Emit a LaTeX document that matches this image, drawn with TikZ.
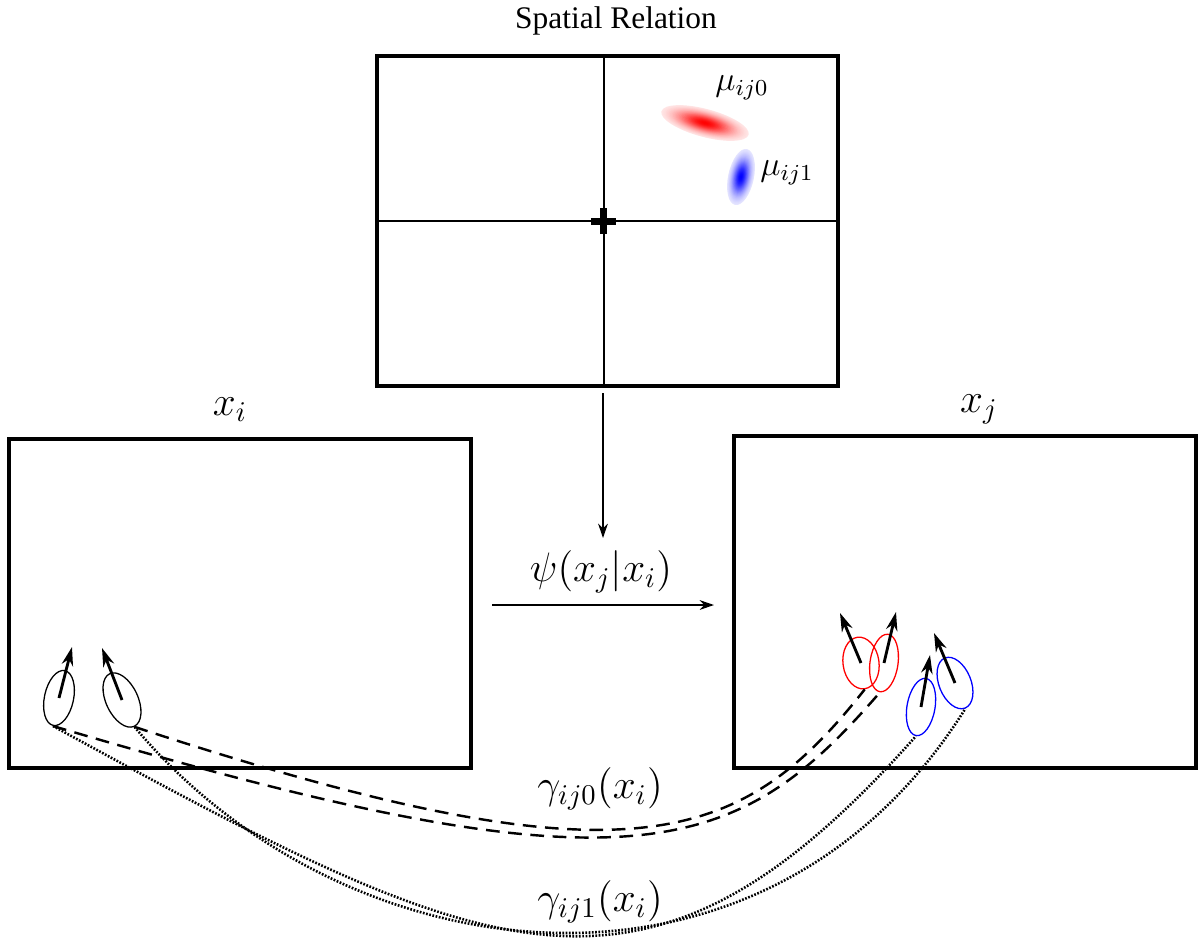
\documentclass[tikz,border=0pt]{standalone}
\usepackage{fontspec}
\setmainfont{Liberation Serif}
\usetikzlibrary{arrows.meta,shapes.geometric}
\begin{document}
\begin{tikzpicture}[x=0.35pt,y=-0.35pt,
  box/.style={draw, line width=1.3pt, inner sep=0pt},
  ell/.style={draw, ellipse, inner sep=0pt, line width=0.45pt},
  vec/.style={line width=1pt, -{Stealth[length=6.5pt,width=4pt]}},
  flow/.style={line width=0.7pt, -{Stealth[length=5pt,width=3.4pt]}},
  dsh/.style={line width=0.85pt, dash pattern=on 4.8pt off 3pt},
  dts/.style={line width=0.9pt, dash pattern=on 0.6pt off 0.55pt},
  lab/.style={inner sep=0pt, font=\Large}]
\useasboundingbox (0,0) rectangle (1198,939);

% boxes
\node[box, minimum width=161.35pt, minimum height=115.5pt] (top) at (607.5,221) {};
\node[box, minimum width=161.7pt, minimum height=115.15pt] (L) at (240,603.5) {};
\node[box, minimum width=161.7pt, minimum height=116.2pt] (R) at (965,602) {};

\node[inner sep=0pt, font=\rmfamily\fontsize{11pt}{13pt}\selectfont] (title) at (616,21) {Spatial Relation};
\node[lab] (xi) at (230,410) {$x_i$};
\node[lab] (xj) at (979,409) {$x_j$};

% cross
\coordinate (c) at (603.5,221);
\draw[line width=0.7pt] (c |- top.north) -- (c |- top.south);
\draw[line width=0.7pt] (c -| top.west) -- (c -| top.east);
\draw[line width=2.45pt] ([xshift=-4.4pt]c) -- ([xshift=4.4pt]c);
\draw[line width=2.45pt] ([yshift=-4.6pt]c) -- ([yshift=4.6pt]c);

% gaussians
\begin{scope}[shift={(705,123)}, rotate=-15]
\foreach \k in {0,...,29}{
  \pgfmathsetmacro\s{1-\k/30}
  \pgfmathsetmacro\p{100*exp(-2.3*\s*\s)}
  \fill[red!\p] (0,0) ellipse [x radius=\s*15.8pt, y radius=\s*4.9pt];
}
\end{scope}
\begin{scope}[shift={(741,177)}, rotate=-12]
\foreach \k in {0,...,29}{
  \pgfmathsetmacro\s{1-\k/30}
  \pgfmathsetmacro\p{100*exp(-2.3*\s*\s)}
  \fill[blue!\p] (0,0) ellipse [x radius=\s*4.5pt, y radius=\s*10pt];
}
\end{scope}
\node[inner sep=0pt, font=\large] (mu0) at (742,88) {$\mu_{ij0}$};
\node[inner sep=0pt, font=\large] (mu1) at (787,173) {$\mu_{ij1}$};

% flow arrows
\coordinate (d0) at (603,393);
\coordinate (d1) at (603,538);
\draw[flow] (d0) -- (d1);
\coordinate (h0) at (492,605);
\coordinate (h1) at (714,605);
\draw[flow] (h0) -- (h1);
\node[lab] (psi) at (601,572) {$\psi(x_j|x_i)$};

% left ellipses
\node[ell, minimum width=10.2pt, minimum height=19.6pt, rotate=-12] (e1) at (59,698) {};
\node[ell, minimum width=11.2pt, minimum height=20.3pt, rotate=25] (e2) at (122,700) {};
% right ellipses
\node[ell, draw=red, minimum width=12.6pt, minimum height=18.2pt, rotate=8] (ra) at (861,663) {};
\node[ell, draw=red, minimum width=9.8pt, minimum height=20.3pt, rotate=-8] (rb) at (884,663) {};
\node[ell, draw=blue, minimum width=9.8pt, minimum height=20.3pt, rotate=-10] (bc) at (921,707) {};
\node[ell, draw=blue, minimum width=11.2pt, minimum height=18.9pt, rotate=22] (bd) at (955,683) {};

\coordinate (t1) at (72,647);
\coordinate (t2) at (102,648);
\coordinate (ta) at (840,613);
\coordinate (tb) at (896,612);
\coordinate (tc) at (930,655);
\coordinate (td) at (934,633);
\draw[vec] (e1.center) -- (t1);
\draw[vec] (e2.center) -- (t2);
\draw[vec] (ra.center) -- (ta);
\draw[vec] (rb.center) -- (tb);
\draw[vec] (bc.center) -- (tc);
\draw[vec] (bd.center) -- (td);

% correspondence curves
\draw[dsh] (e1.south) .. controls (628,897) and (735,860) .. (rb.south);
\draw[dsh] (e2.south) .. controls (628,889) and (740,847) .. (ra.south);
\draw[dts] (e1.south) .. controls (492,966) and (646,1040) .. (bc.south);
\draw[dts] (e2.south) .. controls (345,978) and (763,1031) .. (bd.south);

\node[lab] (g0) at (600,789) {$\gamma_{ij0}(x_i)$};
\node[lab] (g1) at (600,902) {$\gamma_{ij1}(x_i)$};
\end{tikzpicture}
\end{document}
